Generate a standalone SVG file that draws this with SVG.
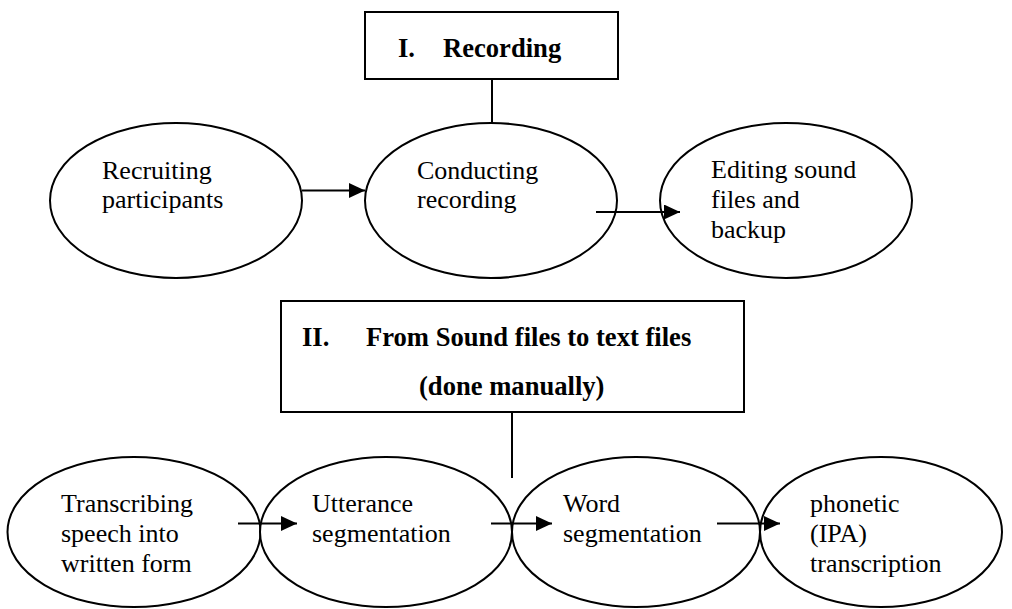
<svg xmlns="http://www.w3.org/2000/svg" width="1012" height="609" viewBox="0 0 1012 609">
<style>
.shape{fill:#fff;stroke:#000;stroke-width:2}
.t{font-family:'Liberation Serif','Times New Roman',Times,'Tinos','Nimbus Roman','DejaVu Serif',serif;font-size:26px;fill:#000}
.b{font-weight:bold;font-size:26.6px}
.c{stroke:#000;stroke-width:2;fill:none}
</style>
<defs>
<marker id="ah" markerUnits="userSpaceOnUse" markerWidth="16" markerHeight="15" refX="16" refY="7.5" orient="auto">
<path d="M0,0 L16,7.5 L0,15 Z" fill="#000"/>
</marker>
</defs>
<rect width="1012" height="609" fill="#fff"/>
<g id="recording">
<rect class="shape" x="365" y="12" width="253" height="67"/>
<text class="t b" x="398" y="57">I.</text>
<text class="t b" x="443" y="57">Recording</text>
</g>
<g id="recruiting">
<ellipse class="shape" cx="176" cy="200.5" rx="126" ry="77.5"/>
<text class="t" x="102" y="179">Recruiting</text>
<text class="t" x="102" y="208">participants</text>
</g>
<g id="conducting">
<ellipse class="shape" cx="491" cy="200.5" rx="126" ry="77.5"/>
<text class="t" x="417" y="179">Conducting</text>
<text class="t" x="417" y="208">recording</text>
</g>
<g id="editing">
<ellipse class="shape" cx="786" cy="200.5" rx="126" ry="77.5"/>
<text class="t" x="711" y="178">Editing sound</text>
<text class="t" x="711" y="208">files and</text>
<text class="t" x="711" y="238">backup</text>
</g>
<g id="sound2text">
<rect class="shape" x="281" y="301" width="463" height="111"/>
<text class="t b" x="302" y="346">II.</text>
<text class="t b" x="366" y="346">From Sound files to text files</text>
<text class="t b" x="419" y="395">(done manually)</text>
</g>
<g id="transcribing">
<ellipse class="shape" cx="134" cy="532" rx="126.5" ry="75"/>
<text class="t" x="61" y="512">Transcribing</text>
<text class="t" x="61" y="542">speech into</text>
<text class="t" x="61" y="572">written form</text>
</g>
<g id="utterance">
<ellipse class="shape" cx="386" cy="532" rx="126" ry="75"/>
<text class="t" x="312" y="512">Utterance</text>
<text class="t" x="312" y="542">segmentation</text>
</g>
<g id="word">
<ellipse class="shape" cx="636" cy="532" rx="124" ry="75"/>
<text class="t" x="563" y="512">Word</text>
<text class="t" x="563" y="542">segmentation</text>
</g>
<g id="phonetic">
<ellipse class="shape" cx="881" cy="532" rx="121" ry="75"/>
<text class="t" x="810" y="512">phonetic</text>
<text class="t" x="810" y="542">(IPA)</text>
<text class="t" x="810" y="572">transcription</text>
</g>
<g id="connectors">
<line class="c" x1="492" y1="79" x2="492" y2="123"/>
<line class="c" x1="302" y1="190.5" x2="365" y2="190.5" marker-end="url(#ah)"/>
<line class="c" x1="596" y1="212" x2="680" y2="212" marker-end="url(#ah)"/>
<line class="c" x1="512" y1="412" x2="512" y2="478"/>
<line class="c" x1="238" y1="523.5" x2="297" y2="523.5" marker-end="url(#ah)"/>
<line class="c" x1="491" y1="523.5" x2="552" y2="523.5" marker-end="url(#ah)"/>
<line class="c" x1="717" y1="523.5" x2="780" y2="523.5" marker-end="url(#ah)"/>
</g>
</svg>
